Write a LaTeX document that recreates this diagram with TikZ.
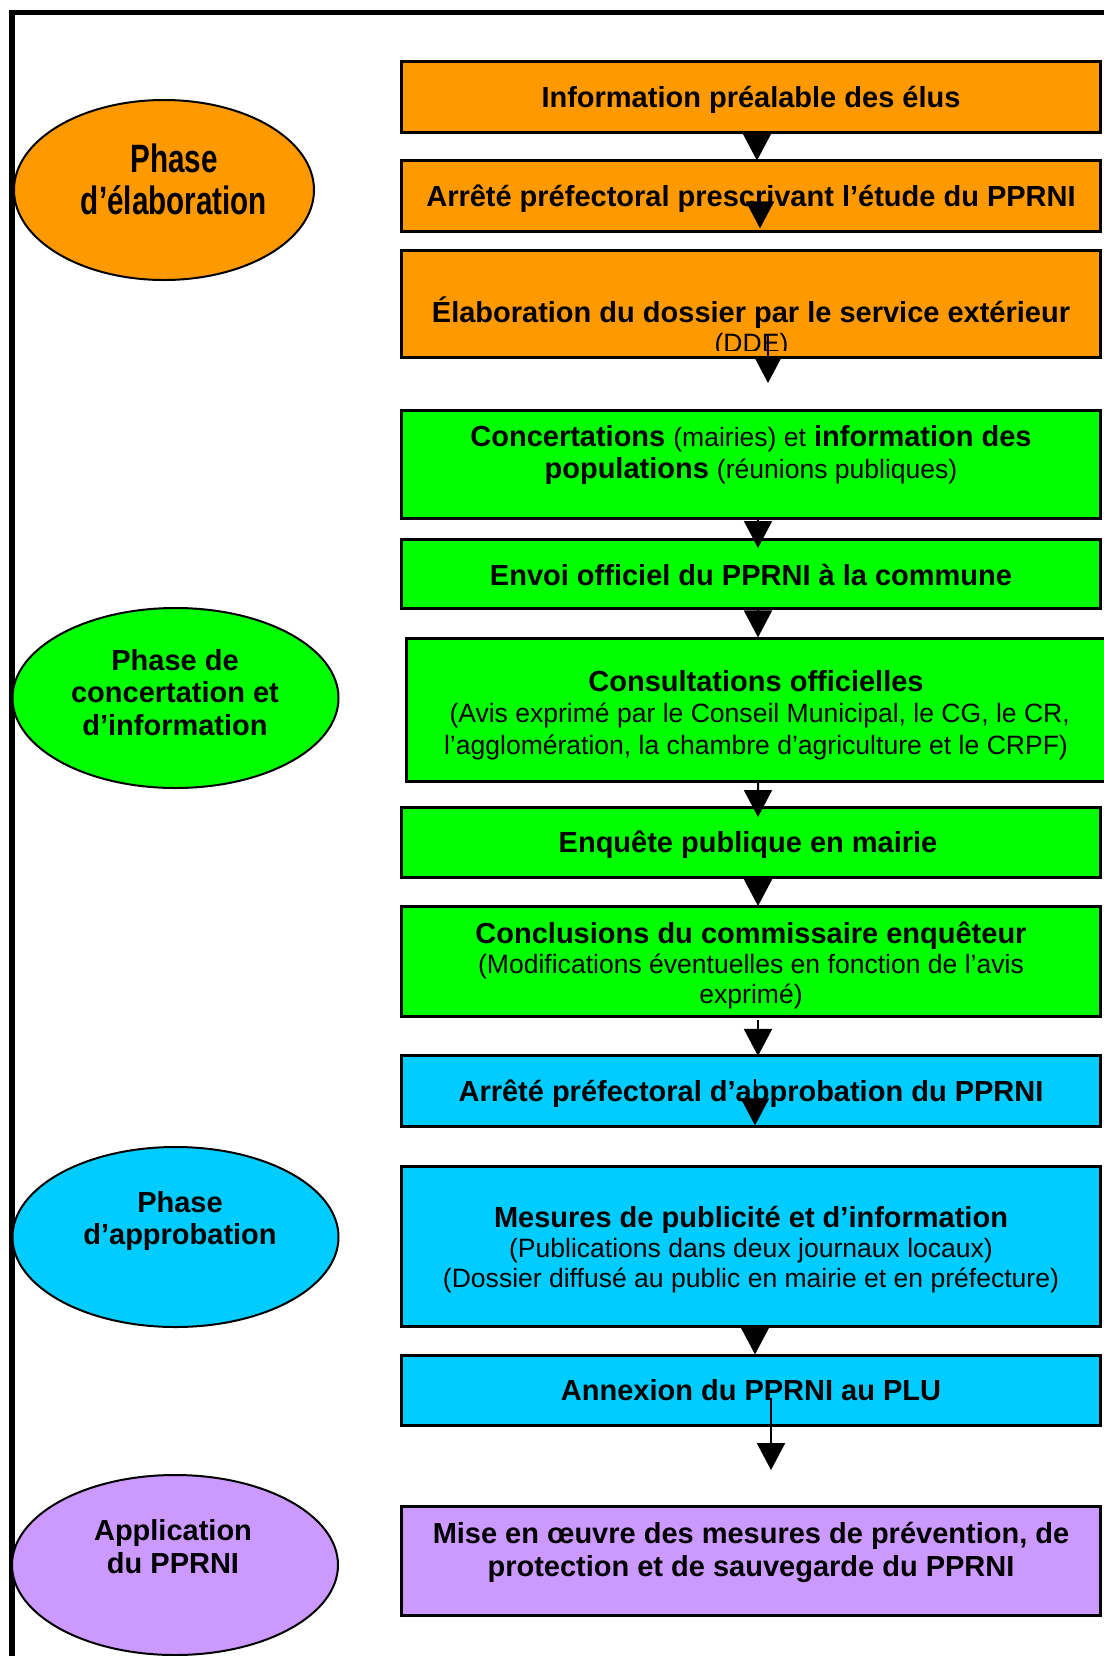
\documentclass[tikz,border=0pt]{standalone}
\usepackage{fontspec}
\setmainfont{Liberation Sans}
\newfontfamily\narrowfont{Liberation Sans}[FakeStretch=0.75]
\usetikzlibrary{shapes.geometric,arrows.meta,calc}
\definecolor{elabor}{HTML}{FF9900}
\definecolor{concert}{HTML}{00FF00}
\definecolor{approb}{HTML}{00CCFF}
\definecolor{applic}{HTML}{CC99FF}
\newcommand\plaintxt[1]{{\fontsize{15.1}{18.7}\selectfont\mdseries #1}}
\begin{document}
\begin{tikzpicture}[x=0.2mm,y=-0.2mm,
box/.style={draw,line width=0.6mm,inner sep=0pt,outer sep=0pt,minimum width=139.6mm},
txt/.style={align=center,inner sep=0pt,font=\fontsize{16.5}{18.7}\selectfont\bfseries},
phase/.style={ellipse,draw,line width=0.4mm,inner sep=0pt,outer sep=0pt,minimum width=65.2mm,minimum height=36mm},
arr/.style={-{Triangle[length=5.4mm,width=5.6mm]},line width=0.4mm},
]
\path[clip,use as bounding box] (0,0) rectangle (1104,1656);
% frame
\draw[line width=1.1mm] (12,1700) -- (12,12.5) -- (1150,12.5);

% phases
\node[phase,fill=elabor,minimum width=60mm] (e1) at (164,190) {};
\node[phase,fill=concert] (e2) at (175.5,698) {};
\node[phase,fill=approb] (e3) at (175.5,1237) {};
\node[phase,fill=applic] (e4) at (175,1565) {};
\node[txt,font=\narrowfont\fontsize{22.5}{24.3}\selectfont\bfseries] (p1) at (174,179.5) {Phase\\d’élaboration};
\node[txt] (p2) at (175,692.5) {Phase de\\concertation et\\d’information};
\node[txt] (p3) at (180,1221) {Phase\\d’approbation};
\node[txt] (p4) at (173,1547) {Application\\du PPRNI};

% steps
\node[box,fill=elabor,minimum height=14.16mm] (b1) at (751,96.7) {};
\node[box,fill=elabor,minimum height=14.16mm] (b2) at (751,196) {};
\node[box,fill=elabor,minimum height=21.4mm] (b3) at (751,303.5) {};
\node[box,fill=concert,minimum height=21.6mm] (b4) at (751,464) {};
\node[box,fill=concert,minimum height=13.8mm] (b5) at (751,573.5) {};
\node[box,fill=concert,minimum height=28.7mm,minimum width=139.8mm] (b6) at (756.5,710.2) {};
\node[box,fill=concert,minimum height=14mm] (b7) at (751,842) {};
\node[box,fill=concert,minimum height=22.1mm] (b8) at (751,961.3) {};
\node[box,fill=approb,minimum height=14.1mm] (b9) at (751,1091.2) {};
\node[box,fill=approb,minimum height=32mm] (b10) at (751,1246) {};
\node[box,fill=approb,minimum height=13.94mm] (b11) at (751,1390.3) {};
\node[box,fill=applic,minimum height=21.9mm] (b12) at (751,1560.8) {};

\node[txt] (t1) at (751,99.5) {Information préalable des élus};
\node[txt] (t2) at (751,199) {Arrêté préfectoral prescrivant l’étude du PPRNI};
\node[txt] (t3) at (751,312.5) {Élaboration du dossier par le service extérieur};
\begin{scope}
\clip (402,250) rectangle (1100,350);
\node[txt] (t3b) at (751.5,346) {\plaintxt{(DDE)}};
\end{scope}
\node[txt] (t4) at (751,455) {Concertations \plaintxt{(mairies) et} information des\\populations \plaintxt{(réunions publiques)}};
\node[txt] (t5) at (751,575) {Envoi officiel du PPRNI à la commune};
\node[txt,font=\fontsize{16.5}{17.8}\selectfont\bfseries] (t6) at (756,715) {Consultations officielles\\\plaintxt{\ (Avis exprimé par le Conseil Municipal, le CG, le CR,}\\\plaintxt{l’agglomération, la chambre d’agriculture et le CRPF)}};
\node[txt] (t7) at (748,844.5) {Enquête publique en mairie};
\node[txt,font=\fontsize{16.5}{17.2}\selectfont\bfseries] (t8) at (751,965.5) {Conclusions du commissaire enquêteur\\\plaintxt{(Modifications éventuelles en fonction de l’avis}\\\plaintxt{exprimé)}};
\node[txt] (t9) at (751,1094) {Arrêté préfectoral d’approbation du PPRNI};
\node[txt,font=\fontsize{16.5}{17.2}\selectfont\bfseries] (t10) at (751,1249.5) {Mesures de publicité et d’information\\\plaintxt{(Publications dans deux journaux locaux)}\\\plaintxt{(Dossier diffusé au public en mairie et en préfecture)}};
\node[txt] (t11) at (751,1390) {Annexion du PPRNI au PLU};
\node[txt] (t12) at (751,1552) {Mise en œuvre des mesures de prévention, de\\protection et de sauvegarde du PPRNI};

% arrows
\draw[arr] ($(b1.south)+(6,0)$) -- ($(b2.north)+(6,0)$);
\draw[arr] ($(b2.south)+(9,-40)$) -- ($(b2.south)+(9,-3)$);
\draw[arr] ($(b3.south)+(17,-22)$) -- ($(b3.south)+(17,26)$);
\draw[arr] ($(b4.south)+(7,0)$) -- ($(b5.north)+(7,9)$);
\draw[arr] ($(b5.south)+(7,0)$) -- ($(b6.north)+(1.5,-1)$);
\draw[arr] ($(b6.south)+(1.5,0)$) -- ($(b7.north)+(7,10)$);
\draw[arr] ($(b7.south)+(7,0)$) -- ($(b8.north)+(7,0)$);
\draw[arr] ($(b8.south)+(7,3)$) -- ($(b9.north)+(7,0)$);
\draw[arr] ($(b9.south)+(4,-47)$) -- ($(b9.south)+(4,-1)$);
\draw[arr] ($(b10.south)+(4,0)$) -- ($(b11.north)+(4,-1)$);
\draw[arr] ($(b11.south)+(20,-27)$) -- ($(b12.north)+(20,-36)$);
\end{tikzpicture}
\end{document}
